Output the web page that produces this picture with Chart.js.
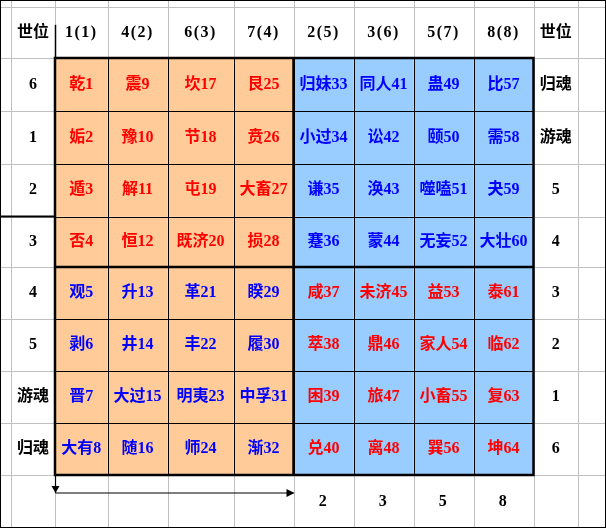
<!DOCTYPE html>
<html>
<head>
<meta charset="utf-8">
<script src="https://cdn.jsdelivr.net/npm/chart.js@4/dist/chart.umd.min.js"></script>
<style>
  html, body { margin: 0; padding: 0; background: #fff; }
  #wrap { width: 606px; height: 528px; }
</style>
</head>
<body>
<div id="wrap"><canvas id="sheet" width="606" height="528"></canvas></div>
<script>
// column headers (palace number and order)
const colHeads = ['1(1)', '4(2)', '6(3)', '7(4)', '2(5)', '3(6)', '5(7)', '8(8)'];
const shiLeft = ['6', '1', '2', '3', '4', '5', '游魂', '归魂'];
const shiRight = ['归魂', '游魂', '5', '4', '3', '2', '1', '6'];
const bottomNums = ['2', '3', '5', '8'];

// the 64 hexagrams, row by row
const guaNames = [
  ['乾', '震', '坎', '艮', '归妹', '同人', '蛊', '比'],
  ['姤', '豫', '节', '贲', '小过', '讼', '颐', '需'],
  ['遁', '解', '屯', '大畜', '谦', '涣', '噬嗑', '夬'],
  ['否', '恒', '既济', '损', '蹇', '蒙', '无妄', '大壮'],
  ['观', '升', '革', '睽', '咸', '未济', '益', '泰'],
  ['剥', '井', '丰', '履', '萃', '鼎', '家人', '临'],
  ['晋', '大过', '明夷', '中孚', '困', '旅', '小畜', '复'],
  ['大有', '随', '师', '渐', '兑', '离', '巽', '坤']
];
const guaNums = [
  [1, 9, 17, 25, 33, 41, 49, 57],
  [2, 10, 18, 26, 34, 42, 50, 58],
  [3, 11, 19, 27, 35, 43, 51, 59],
  [4, 12, 20, 28, 36, 44, 52, 60],
  [5, 13, 21, 29, 37, 45, 53, 61],
  [6, 14, 22, 30, 38, 46, 54, 62],
  [7, 15, 23, 31, 39, 47, 55, 63],
  [8, 16, 24, 32, 40, 48, 56, 64]
];

// sheet layout: column widths / row heights in scale units
const colWidths = [11, 44, 52.5, 60, 66, 60, 60, 60, 60, 60, 44.5, 28];
const rowHeights = [7, 51, 53, 53, 52.5, 50.5, 52, 52, 52, 52, 53];
const xEdges = [0], yEdges = [0];
colWidths.forEach(w => xEdges.push(xEdges[xEdges.length - 1] + w));
rowHeights.forEach(h => yEdges.push(yEdges[yEdges.length - 1] + h));

const ORANGE = '#ffcc99', BLUE = '#99ccff';
const RED_TXT = '#ff0000', BLUE_TXT = '#0000ff';
const FONT = 'bold 16px "Liberation Serif", "Noto Sans CJK SC", serif';

const snap = v => Math.round(v) + 0.5;

function line(ctx, x1, y1, x2, y2, color, w) {
  ctx.strokeStyle = color;
  ctx.lineWidth = w;
  ctx.beginPath();
  ctx.moveTo(x1, y1);
  ctx.lineTo(x2, y2);
  ctx.stroke();
}

const sheetPlugin = {
  id: 'sheet',
  beforeDatasetsDraw(chart) {
    const ctx = chart.ctx, xs = chart.scales.x, ys = chart.scales.y;
    const X = i => xs.getPixelForValue(xEdges[i]);
    const Y = j => ys.getPixelForValue(yEdges[j]);
    const nC = xEdges.length - 1, nR = yEdges.length - 1;
    ctx.save();
    ctx.fillStyle = '#fff';
    ctx.fillRect(X(0), Y(0), X(nC) - X(0), Y(nR) - Y(0));

    // spreadsheet gridlines
    for (let i = 1; i < nC; i++) line(ctx, snap(X(i)), Y(0), snap(X(i)), Y(nR), '#c0c0c0', 1);
    for (let j = 1; j < nR; j++) line(ctx, X(0), snap(Y(j)), X(nC), snap(Y(j)), '#c0c0c0', 1);

    // cell fills
    guaNames.forEach((row, r) => row.forEach((_, c) => {
      ctx.fillStyle = c < 4 ? ORANGE : BLUE;
      ctx.fillRect(X(c + 2), Y(r + 2), X(c + 3) - X(c + 2), Y(r + 3) - Y(r + 2));
    }));

    // thin inner borders
    for (let i = 3; i < 10; i++) line(ctx, snap(X(i)), Y(2), snap(X(i)), Y(10), '#000', 1);
    for (let j = 3; j < 10; j++) line(ctx, X(2), snap(Y(j)), X(10), snap(Y(j)), '#000', 1);

    // thick quadrant borders
    ctx.lineWidth = 2.5;
    ctx.strokeStyle = '#000';
    ctx.strokeRect(X(2), Y(2), X(10) - X(2), Y(10) - Y(2));
    line(ctx, X(6), Y(2), X(6), Y(10), '#000', 2.5);
    line(ctx, X(2), Y(6), X(10), Y(6), '#000', 2.5);

    // stray marks
    line(ctx, snap(X(2)), Y(1) + (Y(2) - Y(1)) * 0.35, snap(X(2)), Y(2), '#000', 1.5);
    line(ctx, X(0), Y(5), X(2), Y(5), '#000', 2);

    // arrows under the table
    const ay = Y(10) + 18;
    line(ctx, snap(X(2)), Y(10), snap(X(2)), ay, '#000', 1.2);
    line(ctx, snap(X(2)), ay, X(6), ay, '#000', 1.2);
    ctx.fillStyle = '#000';
    ctx.beginPath();
    ctx.moveTo(snap(X(2)) - 4, ay - 7); ctx.lineTo(snap(X(2)) + 4, ay - 7); ctx.lineTo(snap(X(2)), ay);
    ctx.fill();
    ctx.beginPath();
    ctx.moveTo(X(6) - 7, ay - 4); ctx.lineTo(X(6) - 7, ay + 4); ctx.lineTo(X(6) + 1, ay);
    ctx.fill();

    // frame
    ctx.lineWidth = 1;
    ctx.strokeRect(0.5, 0.5, X(nC) - 1, Y(nR) - 1);
    ctx.restore();
  },
  afterDatasetsDraw(chart) {
    const ctx = chart.ctx, xs = chart.scales.x, ys = chart.scales.y;
    const CX = i => xs.getPixelForValue((xEdges[i] + xEdges[i + 1]) / 2);
    const CY = j => ys.getPixelForValue((yEdges[j] + yEdges[j + 1]) / 2);
    ctx.save();
    ctx.font = FONT;
    ctx.textAlign = 'center';
    ctx.textBaseline = 'middle';
    ctx.fillStyle = '#000';

    ctx.fillText('世位', CX(1), CY(1));
    ctx.fillText('世位', CX(10), CY(1));
    ctx.letterSpacing = '1.5px';
    colHeads.forEach((h, c) => ctx.fillText(h, CX(c + 2), CY(1)));
    bottomNums.forEach((n, k) => ctx.fillText(n, CX(k + 6), CY(10)));
    ctx.letterSpacing = '0px';
    shiLeft.forEach((s, r) => ctx.fillText(s, CX(1), CY(r + 2)));
    shiRight.forEach((s, r) => ctx.fillText(s, CX(10), CY(r + 2)));

    guaNames.forEach((row, r) => row.forEach((name, c) => {
      const top = r < 4, left = c < 4;
      ctx.fillStyle = (top === left) ? RED_TXT : BLUE_TXT;
      ctx.fillText(name + guaNums[r][c], CX(c + 2), CY(r + 2));
    }));
    ctx.restore();
  }
};

new Chart(document.getElementById('sheet'), {
  type: 'scatter',
  data: { datasets: [] },
  options: {
    responsive: false,
    animation: false,
    devicePixelRatio: 1,
    layout: { padding: 0 },
    plugins: { legend: { display: false }, tooltip: { enabled: false } },
    scales: {
      x: { type: 'linear', min: 0, max: xEdges[xEdges.length - 1], display: false },
      y: { type: 'linear', min: 0, max: yEdges[yEdges.length - 1], reverse: true, display: false }
    }
  },
  plugins: [sheetPlugin]
});
</script>
</body>
</html>
